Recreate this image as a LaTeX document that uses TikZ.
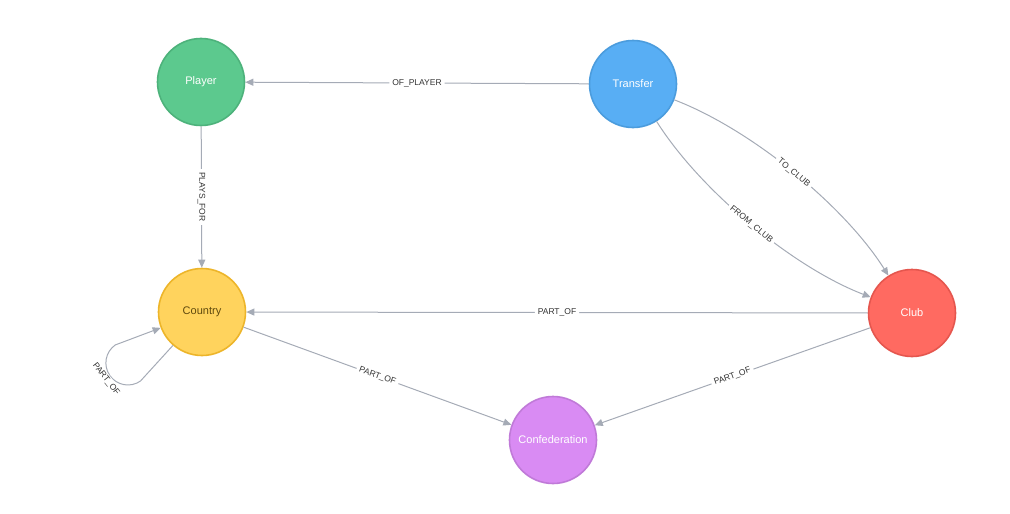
\documentclass[tikz,border=0pt]{standalone}
\usepackage{fontspec}
\setmainfont{Liberation Sans}
\usetikzlibrary{arrows.meta}

\definecolor{edgegray}{HTML}{A5ABB6}
\definecolor{labeltext}{HTML}{333333}
\definecolor{playerfill}{HTML}{5CC98E}
\definecolor{playerline}{HTML}{4DB27B}
\definecolor{transferfill}{HTML}{58AEF4}
\definecolor{transferline}{HTML}{4B9CDD}
\definecolor{countryfill}{HTML}{FFD35D}
\definecolor{countryline}{HTML}{EDB52A}
\definecolor{countrytext}{HTML}{604A0E}
\definecolor{clubfill}{HTML}{FF6A61}
\definecolor{clubline}{HTML}{E5564E}
\definecolor{conffill}{HTML}{D98BF3}
\definecolor{confline}{HTML}{C07AD8}

\begin{document}
\begin{tikzpicture}[x=1pt,y=-1pt,
  ent/.style={circle, minimum size=87pt, inner sep=0pt, line width=1.6pt,
    font=\fontsize{11}{13}\selectfont, text=white},
  rel/.style={draw=edgegray, line width=1pt, -{Triangle[length=8pt,width=7pt]}},
  lbl/.style={fill=white, inner xsep=3pt, inner ysep=1pt, text=labeltext,
    font=\fontsize{8.5}{10}\selectfont}
]
\useasboundingbox (0,0) rectangle (1010,514);

% entities
\node[ent, fill=playerfill, draw=playerline] (player) at (201,82) {Player};
\node[ent, fill=transferfill, draw=transferline] (transfer) at (633,84) {Transfer};
\node[ent, fill=countryfill, draw=countryline, text=countrytext] (country) at (202,312) {Country};
\node[ent, fill=clubfill, draw=clubline] (club) at (912,313) {Club};
\node[ent, fill=conffill, draw=confline] (conf) at (553,440) {Confederation};

% control points of the two transfer-to-club arcs
\coordinate (to1) at (751.4,129.4);
\coordinate (to2) at (844.4,205.8);
\coordinate (from1) at (700.6,191.2);
\coordinate (from2) at (793.6,267.6);

% relationships
\draw[rel] (transfer) -- node[lbl, sloped] {OF\_PLAYER} (player);
\draw[rel] (player) -- node[lbl, rotate=-90] {PLAYS\_FOR} (country);
\draw[rel] (transfer) .. controls (to1) and (to2) .. node[lbl, sloped] {TO\_CLUB} (club);
\draw[rel] (transfer) .. controls (from1) and (from2) .. node[lbl, sloped] {FROM\_CLUB} (club);
\draw[rel] (club) -- node[lbl, sloped] {PART\_OF} (country);
\draw[rel] (country) -- node[lbl, sloped] {PART\_OF} (conf);
\draw[rel] (club) -- node[lbl, sloped] {PART\_OF} (conf);

% self loop on Country
\draw[rel] (country.229) -- (140.5,381) arc[start angle=55, end angle=235, radius=22]
  -- (country.201);
\node[lbl, rotate=-52] (looplbl) at (106,379) {PART\_OF};
\end{tikzpicture}
\end{document}
